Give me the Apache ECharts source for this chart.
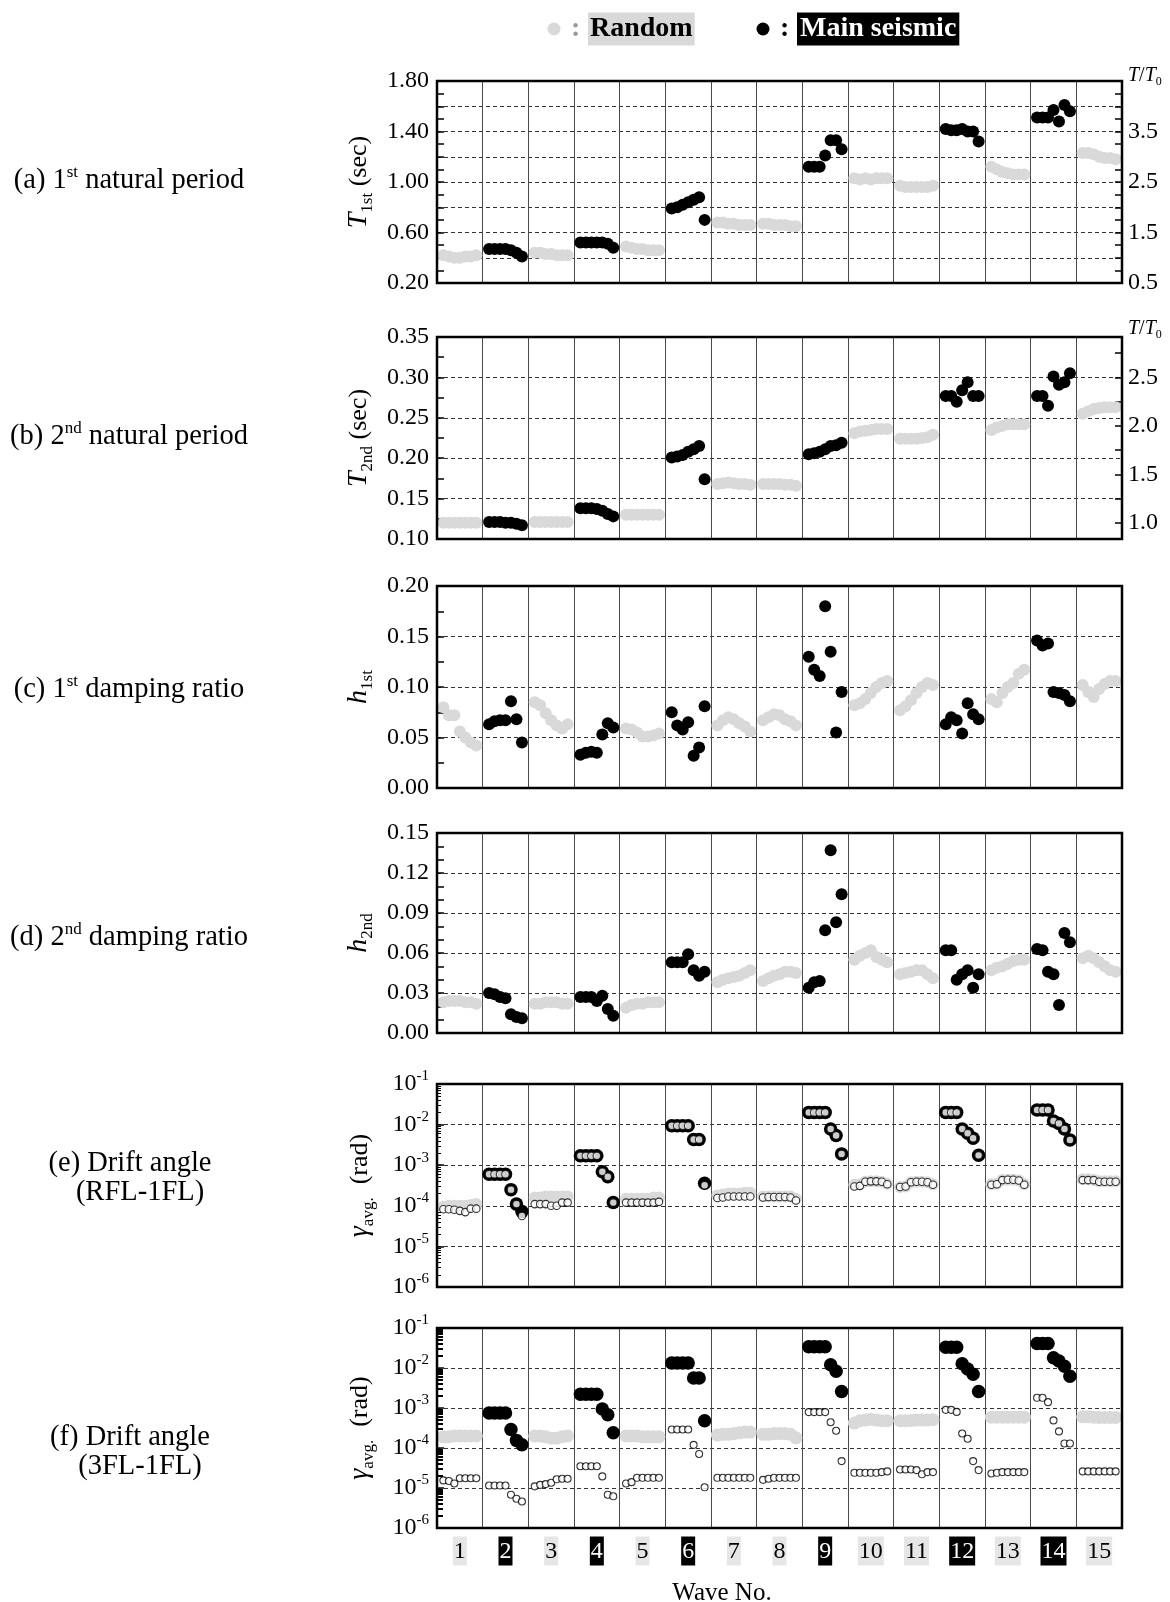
<!DOCTYPE html>
<html><head><meta charset="utf-8">
<script src="https://cdn.jsdelivr.net/npm/echarts@6.0.0/dist/echarts.min.js"></script>
<style>html,body{margin:0;padding:0;background:#fff;}#c{width:1170px;height:1602px;}</style>
</head><body><div id="c"></div>
<script>
const FONT = '"Liberation Serif", "Times New Roman", serif';
const GRAY = '#d9d9d9';

const waves = [1,2,3,4,5,6,7,8,9,10,11,12,13,14,15];
const mainWaves = [2,4,6,9,12,14];

// (a) 1st natural period T1st (sec), 7 cases per wave
const t1st = [
  [0.42,0.41,0.40,0.40,0.41,0.41,0.42],
  [0.47,0.47,0.47,0.47,0.46,0.44,0.41],
  [0.44,0.44,0.43,0.43,0.42,0.42,0.42],
  [0.52,0.52,0.52,0.52,0.52,0.51,0.48],
  [0.49,0.48,0.47,0.47,0.46,0.46,0.46],
  [0.79,0.80,0.82,0.84,0.86,0.88,0.70],
  [0.68,0.68,0.67,0.67,0.66,0.66,0.66],
  [0.67,0.67,0.66,0.66,0.66,0.65,0.65],
  [1.12,1.12,1.12,1.21,1.33,1.33,1.26],
  [1.03,1.02,1.03,1.02,1.03,1.03,1.03],
  [0.97,0.96,0.96,0.96,0.96,0.96,0.97],
  [1.42,1.41,1.41,1.42,1.40,1.40,1.32],
  [1.12,1.10,1.08,1.07,1.06,1.06,1.06],
  [1.51,1.51,1.51,1.57,1.48,1.61,1.56],
  [1.23,1.23,1.22,1.20,1.19,1.19,1.18]
];
// (b) 2nd natural period T2nd (sec)
const t2nd = [
  [0.120,0.120,0.120,0.120,0.120,0.120,0.120],
  [0.121,0.121,0.121,0.120,0.120,0.119,0.117],
  [0.121,0.121,0.121,0.121,0.121,0.121,0.121],
  [0.138,0.138,0.138,0.137,0.135,0.131,0.128],
  [0.130,0.130,0.130,0.130,0.130,0.130,0.130],
  [0.201,0.202,0.204,0.208,0.211,0.215,0.174],
  [0.168,0.169,0.170,0.169,0.168,0.168,0.167],
  [0.168,0.168,0.168,0.168,0.167,0.167,0.166],
  [0.205,0.206,0.208,0.211,0.215,0.216,0.219],
  [0.231,0.233,0.234,0.235,0.236,0.236,0.236],
  [0.224,0.224,0.224,0.224,0.225,0.226,0.229],
  [0.277,0.277,0.270,0.284,0.294,0.277,0.277],
  [0.235,0.238,0.240,0.242,0.242,0.242,0.242],
  [0.277,0.277,0.265,0.301,0.291,0.294,0.305],
  [0.255,0.258,0.261,0.262,0.263,0.263,0.263]
];
// (c) 1st damping ratio
const h1st = [
  [0.080,0.072,0.072,0.056,0.050,0.045,0.042],
  [0.063,0.066,0.067,0.067,0.086,0.068,0.045],
  [0.085,0.082,0.074,0.067,0.062,0.059,0.063],
  [0.033,0.035,0.036,0.035,0.053,0.064,0.060],
  [0.059,0.058,0.055,0.051,0.051,0.052,0.054],
  [0.075,0.062,0.058,0.065,0.032,0.040,0.081],
  [0.062,0.067,0.070,0.068,0.064,0.061,0.056],
  [0.067,0.070,0.073,0.072,0.068,0.066,0.062],
  [0.130,0.117,0.111,0.180,0.135,0.055,0.095],
  [0.082,0.084,0.088,0.094,0.100,0.104,0.106],
  [0.077,0.081,0.087,0.094,0.100,0.104,0.102],
  [0.063,0.070,0.067,0.054,0.084,0.073,0.068],
  [0.088,0.085,0.094,0.100,0.104,0.113,0.117],
  [0.146,0.141,0.143,0.095,0.094,0.092,0.086],
  [0.102,0.095,0.090,0.098,0.103,0.106,0.106]
];
// (d) 2nd damping ratio
const h2nd = [
  [0.023,0.024,0.024,0.024,0.023,0.023,0.022],
  [0.030,0.029,0.027,0.026,0.014,0.012,0.011],
  [0.022,0.022,0.023,0.023,0.023,0.022,0.022],
  [0.027,0.027,0.027,0.024,0.028,0.018,0.013],
  [0.019,0.021,0.022,0.022,0.023,0.023,0.023],
  [0.053,0.053,0.053,0.059,0.047,0.043,0.046],
  [0.038,0.040,0.041,0.042,0.043,0.045,0.047],
  [0.039,0.041,0.043,0.044,0.046,0.046,0.045],
  [0.034,0.038,0.039,0.077,0.137,0.083,0.104],
  [0.055,0.058,0.060,0.062,0.057,0.055,0.053],
  [0.044,0.045,0.046,0.047,0.047,0.044,0.041],
  [0.062,0.062,0.040,0.044,0.047,0.034,0.044],
  [0.047,0.049,0.050,0.052,0.054,0.055,0.055],
  [0.063,0.062,0.046,0.044,0.021,0.075,0.068],
  [0.056,0.058,0.056,0.053,0.050,0.047,0.046]
];
// (e) Drift angle RFL-1FL : filled markers
const driftRflFill = [
  [9.5e-5,1.0e-4,1.0e-4,1.0e-4,1.0e-4,1.05e-4,1.1e-4],
  [6.0e-4,6.0e-4,6.0e-4,6.0e-4,2.5e-4,1.1e-4,7.2e-5],
  [1.6e-4,1.6e-4,1.7e-4,1.7e-4,1.7e-4,1.7e-4,1.7e-4],
  [1.7e-3,1.7e-3,1.7e-3,1.7e-3,6.9e-4,5.2e-4,1.2e-4],
  [1.5e-4,1.5e-4,1.5e-4,1.5e-4,1.5e-4,1.6e-4,1.6e-4],
  [9.4e-3,9.4e-3,9.4e-3,9.4e-3,4.3e-3,4.3e-3,3.6e-4],
  [1.8e-4,1.9e-4,2.0e-4,2.0e-4,2.0e-4,2.1e-4,2.1e-4],
  [1.7e-4,1.7e-4,1.7e-4,1.7e-4,1.7e-4,1.7e-4,1.5e-4],
  [2.0e-2,2.0e-2,2.0e-2,2.0e-2,7.8e-3,5.4e-3,1.9e-3],
  [3.3e-4,3.4e-4,3.9e-4,4.0e-4,4.0e-4,3.9e-4,3.5e-4],
  [2.9e-4,3.0e-4,3.8e-4,3.9e-4,3.9e-4,3.8e-4,3.4e-4],
  [2.0e-2,2.0e-2,2.0e-2,7.8e-3,6.1e-3,4.6e-3,1.75e-3],
  [3.4e-4,3.5e-4,4.3e-4,4.4e-4,4.4e-4,4.2e-4,3.4e-4],
  [2.3e-2,2.3e-2,2.3e-2,1.23e-2,1.07e-2,7.8e-3,4.2e-3],
  [4.5e-4,4.5e-4,4.3e-4,4.0e-4,4.0e-4,4.0e-4,4.0e-4]
];
// (e) Drift angle RFL-1FL : open markers
const driftRflOpen = [
  [8.2e-5,8.2e-5,8.0e-5,7.5e-5,7.0e-5,8.5e-5,8.5e-5],
  [6.0e-4,6.0e-4,6.0e-4,6.0e-4,2.5e-4,1.1e-4,5.6e-5],
  [1.1e-4,1.1e-4,1.1e-4,1.0e-4,1.0e-4,1.2e-4,1.2e-4],
  [1.7e-3,1.7e-3,1.7e-3,1.7e-3,6.9e-4,5.2e-4,1.2e-4],
  [1.2e-4,1.2e-4,1.2e-4,1.2e-4,1.2e-4,1.2e-4,1.25e-4],
  [9.4e-3,9.4e-3,9.4e-3,9.4e-3,4.3e-3,4.3e-3,3.2e-4],
  [1.55e-4,1.6e-4,1.7e-4,1.7e-4,1.7e-4,1.7e-4,1.7e-4],
  [1.6e-4,1.65e-4,1.65e-4,1.65e-4,1.65e-4,1.6e-4,1.35e-4],
  [2.0e-2,2.0e-2,2.0e-2,2.0e-2,7.8e-3,5.4e-3,1.9e-3],
  [3.0e-4,3.1e-4,3.9e-4,4.0e-4,4.0e-4,3.9e-4,3.4e-4],
  [2.9e-4,3.0e-4,3.8e-4,3.9e-4,3.9e-4,3.8e-4,3.3e-4],
  [2.0e-2,2.0e-2,2.0e-2,7.8e-3,6.1e-3,4.6e-3,1.75e-3],
  [3.3e-4,3.4e-4,4.3e-4,4.4e-4,4.4e-4,4.2e-4,3.3e-4],
  [2.3e-2,2.3e-2,2.3e-2,1.23e-2,1.07e-2,7.8e-3,4.2e-3],
  [4.3e-4,4.3e-4,4.3e-4,3.9e-4,3.9e-4,3.9e-4,3.9e-4]
];
// (f) Drift angle 3FL-1FL : filled markers
const drift3flFill = [
  [1.9e-4,1.9e-4,2.0e-4,2.0e-4,2.0e-4,2.0e-4,2.0e-4],
  [7.5e-4,7.5e-4,7.5e-4,7.5e-4,2.9e-4,1.55e-4,1.2e-4],
  [2.0e-4,2.0e-4,1.9e-4,1.75e-4,1.75e-4,1.9e-4,2.0e-4],
  [2.2e-3,2.2e-3,2.2e-3,2.2e-3,9.4e-4,6.8e-4,2.4e-4],
  [2.0e-4,2.0e-4,2.0e-4,1.9e-4,1.9e-4,1.9e-4,1.9e-4],
  [1.33e-2,1.33e-2,1.33e-2,1.33e-2,5.6e-3,5.6e-3,4.8e-4],
  [2.1e-4,2.2e-4,2.2e-4,2.3e-4,2.4e-4,2.5e-4,2.5e-4],
  [2.2e-4,2.2e-4,2.3e-4,2.3e-4,2.3e-4,2.2e-4,1.8e-4],
  [3.4e-2,3.4e-2,3.4e-2,3.4e-2,1.2e-2,8.3e-3,2.6e-3],
  [4.2e-4,4.8e-4,5.0e-4,5.2e-4,5.0e-4,4.8e-4,4.8e-4],
  [4.8e-4,4.8e-4,4.9e-4,5.0e-4,5.0e-4,5.0e-4,5.1e-4],
  [3.3e-2,3.3e-2,3.3e-2,1.27e-2,9.4e-3,7.0e-3,2.6e-3],
  [5.9e-4,5.9e-4,5.9e-4,5.9e-4,5.9e-4,5.9e-4,5.9e-4],
  [4.1e-2,4.1e-2,4.1e-2,1.8e-2,1.5e-2,1.1e-2,6.2e-3],
  [6.0e-4,6.0e-4,5.9e-4,5.8e-4,5.8e-4,5.8e-4,5.8e-4]
];
// (f) Drift angle 3FL-1FL : open markers
const drift3flOpen = [
  [1.55e-5,1.5e-5,1.3e-5,1.75e-5,1.75e-5,1.75e-5,1.75e-5],
  [1.15e-5,1.15e-5,1.15e-5,1.15e-5,6.8e-6,5.4e-6,4.6e-6],
  [1.1e-5,1.2e-5,1.25e-5,1.35e-5,1.65e-5,1.7e-5,1.7e-5],
  [3.5e-5,3.5e-5,3.5e-5,3.5e-5,1.95e-5,6.8e-6,6.2e-6],
  [1.3e-5,1.4e-5,1.8e-5,1.8e-5,1.8e-5,1.8e-5,1.8e-5],
  [2.9e-4,2.9e-4,2.9e-4,2.9e-4,1.2e-4,7.1e-5,1.04e-5],
  [1.8e-5,1.8e-5,1.8e-5,1.8e-5,1.8e-5,1.8e-5,1.8e-5],
  [1.6e-5,1.7e-5,1.8e-5,1.8e-5,1.8e-5,1.8e-5,1.8e-5],
  [7.9e-4,7.9e-4,7.9e-4,7.9e-4,4.4e-4,2.7e-4,4.7e-5],
  [2.4e-5,2.4e-5,2.4e-5,2.4e-5,2.4e-5,2.5e-5,2.6e-5],
  [2.9e-5,2.9e-5,2.9e-5,2.8e-5,2.2e-5,2.5e-5,2.5e-5],
  [9.0e-4,9.0e-4,8.0e-4,2.3e-4,1.7e-4,4.7e-5,2.8e-5],
  [2.3e-5,2.4e-5,2.5e-5,2.5e-5,2.5e-5,2.5e-5,2.5e-5],
  [1.8e-3,1.8e-3,1.4e-3,4.9e-4,2.6e-4,1.3e-4,1.3e-4],
  [2.6e-5,2.6e-5,2.6e-5,2.6e-5,2.6e-5,2.6e-5,2.6e-5]
];

// tick label lists
const t1Labels = [0.20,0.60,1.00,1.40,1.80];
const ratioALabels = [0.5,1.5,2.5,3.5];
const ratioATicks = [0.75,1.0,1.25,1.5,1.75,2.0,2.25,2.5,2.75,3.0,3.25,3.5,3.75,4.0,4.25];
const ratioBLabels = [1.0,1.5,2.0,2.5];
const ratioBTicks = [1.0,1.25,1.5,1.75,2.0,2.25,2.5,2.75];
const T0a = 0.4, T0b = 0.12;
const logMinorTicks = [];
[-6,-5,-4,-3,-2].forEach(e => [2,3,4,5,6,7,8,9].forEach(k => logMinorTicks.push(+(k*Math.pow(10,e)).toPrecision(3))));

// ---------- helpers ----------
const STEP = 0.12;
function pts(rows, wantMain) {
  const out = [];
  rows.forEach((vals, i) => {
    const w = waves[i];
    const isMain = mainWaves.includes(w);
    if (wantMain !== null && isMain !== wantMain) return;
    vals.forEach((v, j) => out.push([w + (j - 3) * STEP, v]));
  });
  return out;
}

const gridDefs = [
  {top:81, height:202},
  {top:337, height:202},
  {top:586, height:202},
  {top:833, height:200},
  {top:1084, height:203},
  {top:1328, height:200}
];
const grid = gridDefs.map(g => ({left:437, width:685, top:g.top, height:g.height,
  show:true, borderColor:'#000', borderWidth:2.5, backgroundColor:'transparent', z:10}));

const labelStyle = {color:'#000', fontFamily:FONT, fontSize:24};
const nameRich = {
  it:{fontFamily:FONT, fontStyle:'italic', fontSize:28, lineHeight:34, color:'#000'},
  n:{fontFamily:FONT, fontSize:26, lineHeight:34, color:'#000'},
  sub:{fontFamily:FONT, fontSize:17, lineHeight:17, verticalAlign:'bottom', color:'#000'}
};
const supRich = {
  b:{fontFamily:FONT, fontSize:24, lineHeight:30, color:'#000'},
  s:{fontFamily:FONT, fontSize:15, lineHeight:15, verticalAlign:'top', color:'#000'}
};

const xAxis = gridDefs.map((g, i) => ({
  type:'value', gridIndex:i, min:0.5, max:15.5, interval:1,
  axisLine:{show:false}, axisTick:{show:false},
  splitLine:{show:true, showMinLine:false, showMaxLine:false, lineStyle:{color:'#4a4a4a', width:1}},
  axisLabel: i === 5 ? {
    show:true, customValues:waves, margin:10,
    formatter: v => mainWaves.includes(v) ? '{m|' + v + '}' : '{r|' + v + '}',
    rich:{
      r:{fontFamily:FONT, fontSize:24, color:'#000', backgroundColor:'#e6e6e6', padding:[3,1,2,1], lineHeight:26},
      m:{fontFamily:FONT, fontSize:24, color:'#fff', backgroundColor:'#000', padding:[3,1,2,1], lineHeight:26}
    }
  } : {show:false}
}));

const tickCommon = {show:true, inside:true, length:7, lineStyle:{color:'#000', width:1.5}};
const dashed = {show:true, showMinLine:false, showMaxLine:false, lineStyle:{type:[4,3], color:'#333', width:1}};

function leftLinear(gi, min, max, interval, minorSplit, name, extra) {
  return Object.assign({
    type:'value', gridIndex:gi, position:'left', min, max, interval,
    axisLine:{show:false}, axisTick:tickCommon,
    minorTick:{show:true, splitNumber:minorSplit, length:7, lineStyle:{color:'#000', width:1.5}},
    axisLabel:Object.assign({margin:8, formatter:v => v.toFixed(2)}, labelStyle),
    splitLine:dashed,
    name, nameLocation:'middle', nameRotate:90, nameGap:55, nameTextStyle:{rich:nameRich}
  }, extra || {});
}
function leftLog(gi, name) {
  return [{
    type:'log', logBase:10, gridIndex:gi, position:'left', min:1e-6, max:1e-1, splitNumber:5,
    axisLine:{show:false}, axisTick:tickCommon,
    axisLabel:{margin:8, formatter:v => '{b|10}{s|' + Math.round(Math.log10(v)) + '}', rich:supRich},
    splitLine:dashed,
    name, nameLocation:'middle', nameRotate:90, nameGap:60, nameTextStyle:{rich:nameRich}
  }, {
    type:'log', logBase:10, gridIndex:gi, position:'left', min:1e-6, max:1e-1,
    axisLine:{show:false}, axisLabel:{show:false}, splitLine:{show:false},
    axisTick:{show:true, inside:true, length:gi === 5 ? 6 : 4, customValues:logMinorTicks,
      lineStyle:{color:'#000', width:gi === 5 ? 2 : 1}}
  }];
}
function rightRatio(gi, leftMin, leftMax, T0, labels, ticks) {
  return {
    type:'value', gridIndex:gi, position:'right', min:leftMin / T0, max:leftMax / T0,
    axisLine:{show:false}, splitLine:{show:false},
    axisTick:{show:true, inside:true, length:7, customValues:ticks, lineStyle:{color:'#000', width:1.5}},
    axisLabel:Object.assign({customValues:labels, margin:6, formatter:v => v.toFixed(1)}, labelStyle)
  };
}

const yAxis = [];
yAxis.push(leftLinear(0, 0.2, 1.8, 0.2, 2, '{it|T}{sub|1st}{n| (sec)}', {
  axisLabel:Object.assign({margin:8, customValues:t1Labels, formatter:v => v.toFixed(2)}, labelStyle)}));   // 0
yAxis.push(rightRatio(0, 0.2, 1.8, T0a, ratioALabels, ratioATicks));                                        // 1
yAxis.push(leftLinear(1, 0.10, 0.35, 0.05, 2, '{it|T}{sub|2nd}{n| (sec)}'));                                // 2
yAxis.push(rightRatio(1, 0.10, 0.35, T0b, ratioBLabels, ratioBTicks));                                      // 3
yAxis.push(leftLinear(2, 0, 0.20, 0.05, 2, '{it|h}{sub|1st}'));                                             // 4
yAxis.push(leftLinear(3, 0, 0.15, 0.03, 3, '{it|h}{sub|2nd}'));                                             // 5
yAxis.push(...leftLog(4, '{it|γ}{sub|avg.}{n|  (rad)}'));                                                    // 6,7
yAxis.push(...leftLog(5, '{it|γ}{sub|avg.}{n|  (rad)}'));                                                    // 8,9

function sc(gi, yi, data, size, color, z, border) {
  return {
    type:'scatter', xAxisIndex:gi, yAxisIndex:yi, data, symbol:'circle', symbolSize:size, z,
    itemStyle: border ? {color:'#fff', borderColor:'#000', borderWidth:1.1} : {color, opacity:1},
    emphasis:{disabled:true}, animation:false, silent:true
  };
}

const series = [];
[[t1st,0,0],[t2nd,1,2],[h1st,2,4],[h2nd,3,5]].forEach(([rows, gi, yi]) => {
  series.push(sc(gi, yi, pts(rows, false), 12, GRAY, 3));
  series.push(sc(gi, yi, pts(rows, true), 12, '#000', 4));
});
series.push(sc(4, 6, pts(driftRflFill, false), 12, GRAY, 3));
series.push(sc(4, 6, pts(driftRflFill, true), 13.5, '#000', 4));
series.push(sc(4, 6, pts(driftRflOpen, null), 7.5, '#fff', 5, true));
series.push(sc(5, 8, pts(drift3flFill, false), 13, GRAY, 3));
series.push(sc(5, 8, pts(drift3flFill, true), 13.5, '#000', 4));
series.push(sc(5, 8, pts(drift3flOpen, null), 7, '#fff', 5, true));

function txt(x, y, text, rich, align) {
  return {type:'text', x, y, silent:true, style:{text, rich, align:align || 'center', verticalAlign:'middle', fill:'#000'}};
}
const lbl = {
  n:{fontFamily:FONT, fontSize:28.5, color:'#000', lineHeight:34},
  sup:{fontFamily:FONT, fontSize:17, color:'#000', lineHeight:17, verticalAlign:'top'}
};
const ratioRich = {
  i:{fontFamily:FONT, fontStyle:'italic', fontSize:20, color:'#000', lineHeight:24},
  n:{fontFamily:FONT, fontSize:20, color:'#000', lineHeight:24},
  sub:{fontFamily:FONT, fontSize:12, color:'#000', lineHeight:12, verticalAlign:'bottom'}
};
const graphic = [
  {type:'circle', shape:{cx:554, cy:29, r:6.5}, style:{fill:GRAY}, silent:true},
  {type:'text', x:571, y:29, silent:true, style:{text:':', font:'bold 28px ' + FONT, fill:'#9a9a9a', verticalAlign:'middle'}},
  {type:'text', x:588, y:29, silent:true, style:{text:'Random', font:'bold 28px ' + FONT, fill:'#000', verticalAlign:'middle', backgroundColor:GRAY, padding:[3,2,2,2]}},
  {type:'circle', shape:{cx:763, cy:29, r:6.5}, style:{fill:'#000'}, silent:true},
  {type:'text', x:780, y:29, silent:true, style:{text:':', font:'bold 28px ' + FONT, fill:'#000', verticalAlign:'middle'}},
  {type:'text', x:797, y:29, silent:true, style:{text:'Main seismic', font:'bold 28px ' + FONT, fill:'#fff', verticalAlign:'middle', backgroundColor:'#000', padding:[3,3,2,3]}},
  txt(129, 181, '{n|(a) 1}{sup|st}{n| natural period}', lbl),
  txt(129, 437, '{n|(b) 2}{sup|nd}{n| natural period}', lbl),
  txt(129, 690, '{n|(c) 1}{sup|st}{n| damping ratio}', lbl),
  txt(129, 938, '{n|(d) 2}{sup|nd}{n| damping ratio}', lbl),
  txt(130, 1164, '{n|(e) Drift angle}', lbl),
  txt(140, 1193, '{n|(RFL-1FL)}', lbl),
  txt(130, 1438, '{n|(f) Drift angle}', lbl),
  txt(140, 1467, '{n|(3FL-1FL)}', lbl),
  txt(1128, 76, '{i|T}{n|/}{i|T}{sub|0}', ratioRich, 'left'),
  txt(1128, 329, '{i|T}{n|/}{i|T}{sub|0}', ratioRich, 'left'),
  {type:'text', x:722, y:1593, silent:true, style:{text:'Wave No.', font:'25px ' + FONT, fill:'#000', align:'center', verticalAlign:'middle'}}
];

const chart = echarts.init(document.getElementById('c'), null, {renderer:'canvas'});
chart.setOption({animation:false, backgroundColor:'#fff', grid, xAxis, yAxis, series, graphic});
</script></body></html>
